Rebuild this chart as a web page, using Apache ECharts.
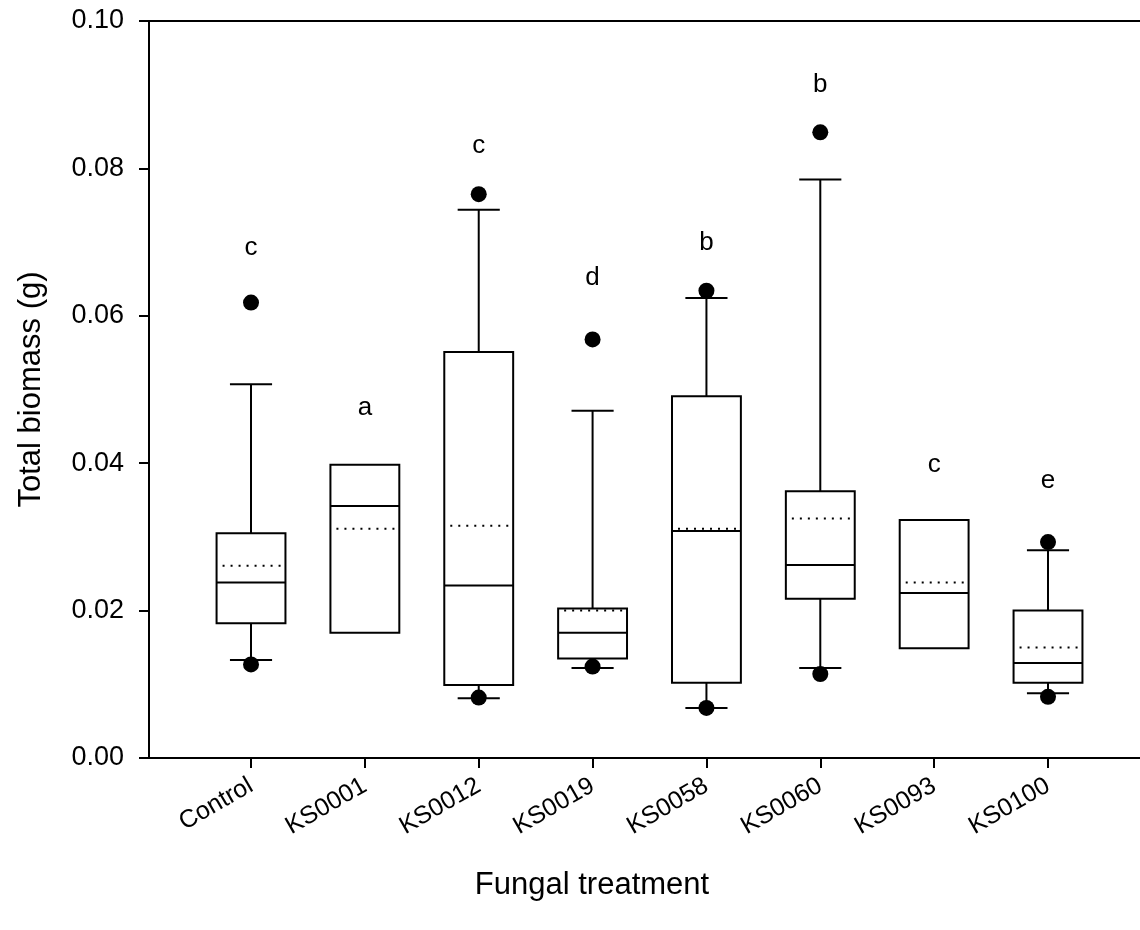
<!DOCTYPE html>
<html>
<head>
<meta charset="utf-8">
<title>Total biomass by fungal treatment</title>
<script src="https://cdn.jsdelivr.net/npm/echarts@6/dist/echarts.min.js"></script>
<style>
  html, body { margin: 0; padding: 0; background: #fff; }
  #chart { width: 1140px; height: 930px; }
</style>
</head>
<body>
<div id="chart"></div>
<script>
// Fungal treatments along the x axis
const categories = ['Control', 'KS0001', 'KS0012', 'KS0019', 'KS0058', 'KS0060', 'KS0093', 'KS0100'];

// Box statistics per treatment (g); null = no whisker drawn
const whiskerLow  = [0.0133, null,   0.0081, 0.0122, 0.0068, 0.0122, null,   0.0088];
const quartile1   = [0.0183, 0.0170, 0.0099, 0.0135, 0.0102, 0.0216, 0.0149, 0.0102];
const medians     = [0.0238, 0.0342, 0.0234, 0.0170, 0.0308, 0.0262, 0.0224, 0.0129];
const quartile3   = [0.0305, 0.0398, 0.0551, 0.0203, 0.0491, 0.0362, 0.0323, 0.0200];
const whiskerHigh = [0.0507, null,   0.0744, 0.0471, 0.0624, 0.0785, null,   0.0282];
const means       = [0.0261, 0.0311, 0.0315, 0.0200, 0.0311, 0.0325, 0.0238, 0.0150];

// Outlying observations: [treatment index, biomass]
const outliers = [
  [0, 0.0618], [0, 0.0127],
  [2, 0.0765], [2, 0.0082],
  [3, 0.0568], [3, 0.0124],
  [4, 0.0634], [4, 0.0068],
  [5, 0.0849], [5, 0.0114],
  [7, 0.0293], [7, 0.0083]
];

// Significance groups and the biomass level each letter sits at
const letters = ['c', 'a', 'c', 'd', 'b', 'b', 'c', 'e'];
const letterLevels = [0.0692, 0.0475, 0.0830, 0.0652, 0.0699, 0.0913, 0.0398, 0.0376];

// Y axis ticks
const yTicks = { min: 0, max: 0.10, interval: 0.02 };

const FONT = '"Liberation Sans", Arial, Helvetica, sans-serif';
const positions = categories.map((_, i) => i);

const boxData = categories.map((_, i) => [
  i,
  whiskerLow[i] == null ? -1 : whiskerLow[i],
  quartile1[i], medians[i], quartile3[i],
  whiskerHigh[i] == null ? -1 : whiskerHigh[i],
  means[i]
]);
const letterData = categories.map((_, i) => [i, letterLevels[i]]);

// Box, median, dotted mean and capped whiskers for one treatment
function renderBox(params, api) {
  const i = api.value(0);
  const lo = api.value(1), q1 = api.value(2), md = api.value(3);
  const q3 = api.value(4), hi = api.value(5), mn = api.value(6);
  const unit = api.size([1, 0])[0];
  const bw = unit * 0.605;
  const cw = unit * 0.37;
  const cx = api.coord([i, 0])[0];
  const y = v => api.coord([i, v])[1];
  const stroke = { stroke: '#000', lineWidth: 2 };
  const kids = [];
  if (hi >= 0) {
    kids.push({ type: 'line', shape: { x1: cx, y1: y(q3), x2: cx, y2: y(hi) }, style: stroke });
    kids.push({ type: 'line', shape: { x1: cx - cw / 2, y1: y(hi), x2: cx + cw / 2, y2: y(hi) }, style: stroke });
  }
  if (lo >= 0) {
    kids.push({ type: 'line', shape: { x1: cx, y1: y(q1), x2: cx, y2: y(lo) }, style: stroke });
    kids.push({ type: 'line', shape: { x1: cx - cw / 2, y1: y(lo), x2: cx + cw / 2, y2: y(lo) }, style: stroke });
  }
  kids.push({
    type: 'rect',
    shape: { x: cx - bw / 2, y: y(q3), width: bw, height: y(q1) - y(q3) },
    style: { fill: '#fff', stroke: '#000', lineWidth: 2 }
  });
  kids.push({
    type: 'line',
    shape: { x1: cx - bw / 2 + 6, y1: y(mn), x2: cx + bw / 2, y2: y(mn) },
    style: { stroke: '#000', lineWidth: 2, lineDash: [2, 6] }
  });
  kids.push({ type: 'line', shape: { x1: cx - bw / 2, y1: y(md), x2: cx + bw / 2, y2: y(md) }, style: stroke });
  return { type: 'group', children: kids };
}

function renderLetter(params, api) {
  const p = api.coord([api.value(0), api.value(1)]);
  return {
    type: 'text',
    x: p[0], y: p[1],
    style: {
      text: letters[params.dataIndex],
      fontFamily: FONT, fontSize: 26, fill: '#000',
      textAlign: 'center', textVerticalAlign: 'middle'
    }
  };
}

const chart = echarts.init(document.getElementById('chart'), null, { renderer: 'canvas' });
chart.setOption({
  animation: false,
  backgroundColor: '#fff',
  grid: { left: 149, top: 21, right: 0, bottom: 172, containLabel: false },
  graphic: [
    {
      type: 'text',
      x: 592, y: 885,
      style: {
        text: 'Fungal treatment',
        fontFamily: FONT, fontSize: 31, fill: '#000',
        textAlign: 'center', textVerticalAlign: 'middle'
      }
    }
  ],
  xAxis: [
    {
      type: 'value',
      min: -0.896,
      max: 7.808,
      splitLine: { show: false },
      axisLine: { show: true, onZero: false, lineStyle: { color: '#000', width: 2 } },
      axisTick: { show: true, customValues: positions, length: 10, lineStyle: { color: '#000', width: 2 } },
      axisLabel: {
        customValues: positions,
        formatter: v => categories[Math.round(v)] || '',
        rotate: 30,
        margin: 26,
        fontFamily: FONT, fontSize: 25, color: '#000'
      }
    },
    {
      type: 'value',
      position: 'top',
      min: -0.896,
      max: 7.808,
      splitLine: { show: false },
      axisLine: { show: true, onZero: false, lineStyle: { color: '#000', width: 2 } },
      axisTick: { show: false },
      axisLabel: { show: false }
    }
  ],
  yAxis: {
    type: 'value',
    min: yTicks.min,
    max: yTicks.max,
    interval: yTicks.interval,
    name: 'Total biomass (g)',
    nameLocation: 'middle',
    nameGap: 102,
    nameTextStyle: { fontFamily: FONT, fontSize: 31, color: '#000' },
    splitLine: { show: false },
    axisLine: { show: true, onZero: false, lineStyle: { color: '#000', width: 2 } },
    axisTick: { show: true, length: 10, lineStyle: { color: '#000', width: 2 } },
    axisLabel: {
      formatter: v => v.toFixed(2),
      margin: 25,
      fontFamily: FONT, fontSize: 27, color: '#000'
    }
  },
  series: [
    {
      type: 'custom',
      name: 'boxes',
      xAxisIndex: 0,
      renderItem: renderBox,
      data: boxData,
      encode: { x: 0, y: [1, 2, 3, 4, 5, 6] },
      z: 2
    },
    {
      type: 'scatter',
      name: 'outliers',
      xAxisIndex: 0,
      data: outliers,
      symbol: 'circle',
      symbolSize: 16,
      itemStyle: { color: '#000', opacity: 1 },
      z: 3
    },
    {
      type: 'custom',
      name: 'letters',
      xAxisIndex: 0,
      renderItem: renderLetter,
      data: letterData,
      encode: { x: 0, y: 1 },
      z: 4
    }
  ]
});
</script>
</body>
</html>
